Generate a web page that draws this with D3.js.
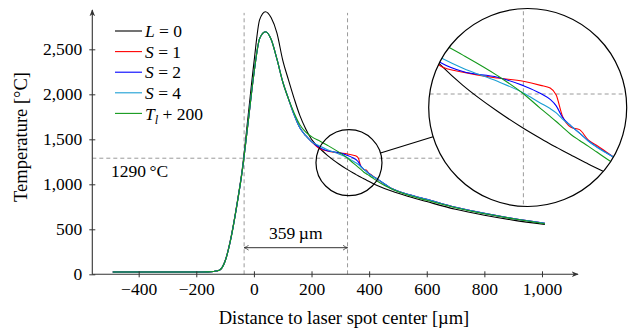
<!DOCTYPE html>
<html>
<head>
<meta charset="utf-8">
<script src="https://cdn.jsdelivr.net/npm/d3@7"></script>
<style>
  body { margin: 0; background: #fff; }
  svg text { font-family: "Liberation Serif", "Times New Roman", "DejaVu Serif", serif; fill: #000; }
</style>
</head>
<body>
<svg width="628" height="331"></svg>
<script>
// distance to laser spot center [µm], shared by all series
const xs = [-490, -300, -200, -160, -140, -120, -100, -80, -60, -40,
  -20, 0, 20, 40, 60, 80, 100, 120, 140, 160,
  180, 200, 230, 255, 295, 325, 345, 356, 363, 370,
  380, 390, 400, 410, 430, 480, 540, 600, 700, 800,
  900, 1010]

// temperatures [°C]
const tempL0 = [25, 25, 25, 27, 32, 46, 150, 405, 760, 1180,
  1760, 2350, 2830, 2918, 2850, 2680, 2380, 2160, 1950, 1760,
  1615, 1500, 1395, 1322, 1226, 1163, 1125, 1105, 1093, 1081,
  1064, 1047, 1031, 1015, 985, 922, 862, 808, 722, 656,
  602, 553]
const tempS1 = [25, 25, 25, 27, 32, 45, 145, 395, 750, 1160,
  1690, 2230, 2620, 2696, 2610, 2390, 2140, 1950, 1770, 1625,
  1540, 1475, 1392, 1371, 1349, 1337, 1322, 1312, 1286, 1210,
  1167, 1158, 1120, 1099, 1055, 950, 885, 833, 745, 677,
  620, 568]
const tempS2 = [25, 25, 25, 27, 32, 45, 145, 395, 750, 1160,
  1690, 2230, 2620, 2696, 2610, 2390, 2140, 1950, 1770, 1625,
  1540, 1475, 1405, 1373, 1352, 1321, 1292, 1270, 1246, 1205,
  1172, 1145, 1117, 1094, 1055, 950, 885, 833, 745, 677,
  620, 568]
const tempS4 = [25, 25, 25, 27, 32, 45, 145, 395, 750, 1160,
  1690, 2230, 2620, 2696, 2610, 2390, 2140, 1950, 1770, 1625,
  1540, 1475, 1423, 1385, 1337, 1294, 1256, 1236, 1220, 1198,
  1172, 1145, 1116, 1093, 1055, 950, 885, 833, 745, 677,
  620, 568]
const tempTl = [25, 25, 25, 27, 32, 45, 145, 395, 750, 1160,
  1690, 2230, 2620, 2696, 2610, 2390, 2140, 1950, 1790, 1660,
  1580, 1530, 1478, 1434, 1358, 1291, 1236, 1207, 1188, 1168,
  1140, 1118, 1097, 1075, 1032, 945, 875, 822, 740, 672,
  617, 562]

const xTicks = [-400, -200, 0, 200, 400, 600, 800, 1000]
const yTicks = [0, 500, 1000, 1500, 2000, 2500]
const meltTemp = 1290
const spotEdges = [-34, 325]

const series = [
  { label: [['L', true], [' = 0', false]], values: tempL0, color: '#000000' },
  { label: [['S', true], [' = 1', false]], values: tempS1, color: '#ff0000' },
  { label: [['S', true], [' = 2', false]], values: tempS2, color: '#0000ff' },
  { label: [['S', true], [' = 4', false]], values: tempS4, color: '#1b9fd4' },
  { label: [['T', true], ['l', true, 'sub'], [' + 200', false]], values: tempTl, color: '#13991b' },
]

;(function (d3) {
  'use strict'

  const svg = d3.select('svg')
  const fontSize = 17.5
  const fontFamily = '"Liberation Serif", "Times New Roman", "DejaVu Serif", serif'

  const x = d3.scaleLinear().domain([-561, 1125]).range([92.3, 578])
  const y = d3.scaleLinear().domain([0, 2937]).range([274.3, 10])

  // spy: small circle in the plot, magnified 3x in the big circle
  const mag = 3
  const spyC = [x(330), y(1240)]
  const spyR = 33
  const bigC = [527.7, 107.5]
  const bigR = 99
  const xz = x.copy().range(x.range().map(v => bigC[0] + mag * (v - spyC[0])))
  const yz = y.copy().range(y.range().map(v => bigC[1] + mag * (v - spyC[1])))

  const defs = svg.append('defs')
  defs.
    append('clipPath').
    attr('id', 'spy-clip').
    append('circle').
    attr('cx', bigC[0]).
    attr('cy', bigC[1]).
    attr('r', bigR)

  function drawContent (g, sx, sy, hEnd) {
    g.selectAll('line.guide-v').
      data(spotEdges).
      enter().
      append('line').
      attr('class', 'guide-v').
      attr('x1', d => sx(d)).
      attr('x2', d => sx(d)).
      attr('y1', sy(0)).
      attr('y2', sy(2905)).
      attr('stroke', '#9a9a9a').
      attr('stroke-width', 1).
      attr('stroke-dasharray', '4,3')

    g.append('line').
      attr('x1', sx(-561)).
      attr('x2', hEnd).
      attr('y1', sy(meltTemp)).
      attr('y2', sy(meltTemp)).
      attr('stroke', '#9a9a9a').
      attr('stroke-width', 1).
      attr('stroke-dasharray', '4,3')

    const line = d3.line().
      x((d, i) => sx(xs[i])).
      y(d => sy(d)).
      curve(d3.curveMonotoneX)

    g.selectAll('path.curve').
      data(series).
      enter().
      append('path').
      attr('class', 'curve').
      attr('d', d => line(d.values)).
      attr('fill', 'none').
      attr('stroke', d => d.color).
      attr('stroke-width', 1.1)
  }

  // main plot
  drawContent(svg.append('g'), x, y, 470)

  // axes
  const axisColor = '#333'
  const xAxis = svg.append('g').
    attr('transform', `translate(0,${y(0)})`).
    call(d3.axisBottom(x).tickValues(xTicks).tickSize(0).tickFormat(d3.format(',')))
  xAxis.select('.domain').remove()
  xAxis.attr('font-family', null).attr('font-size', null)
  xAxis.selectAll('.tick line').attr('y1', -3).attr('y2', 3).attr('stroke', axisColor)
  xAxis.selectAll('.tick text').
    attr('y', 8).
    attr('dy', '0.71em').
    style('font-size', fontSize + 'px').
    style('font-family', fontFamily).
    attr('fill', '#000')

  const yAxis = svg.append('g').
    attr('transform', `translate(${x(-561)},0)`).
    call(d3.axisLeft(y).tickValues(yTicks).tickSize(0).tickFormat(d3.format(',')))
  yAxis.select('.domain').remove()
  yAxis.attr('font-family', null).attr('font-size', null)
  yAxis.selectAll('.tick line').attr('x1', -3).attr('x2', 3).attr('stroke', axisColor)
  yAxis.selectAll('.tick text').
    attr('x', -10).
    style('font-size', fontSize + 'px').
    style('font-family', fontFamily).
    attr('fill', '#000')

  defs.append('marker').
    attr('id', 'axis-arrow').
    attr('viewBox', '0 0 10 10').
    attr('refX', 9).
    attr('refY', 5).
    attr('markerWidth', 7).
    attr('markerHeight', 7).
    attr('markerUnits', 'userSpaceOnUse').
    attr('orient', 'auto').
    append('path').
    attr('d', 'M0,1 L10,5 L0,9 L3,5 Z').
    attr('fill', axisColor)

  svg.append('line').
    attr('x1', x(-561)).attr('x2', 578).
    attr('y1', y(0)).attr('y2', y(0)).
    attr('stroke', axisColor).attr('stroke-width', 1.1).
    attr('marker-end', 'url(#axis-arrow)')
  svg.append('line').
    attr('x1', x(-561)).attr('x2', x(-561)).
    attr('y1', y(0)).attr('y2', 10).
    attr('stroke', axisColor).attr('stroke-width', 1.1).
    attr('marker-end', 'url(#axis-arrow)')

  // axis titles
  svg.append('text').
    attr('x', 344).
    attr('y', 324).
    attr('text-anchor', 'middle').
    style('font-size', '18.5px').
    text('Distance to laser spot center [µm]')
  svg.append('text').
    attr('transform', 'translate(27,137) rotate(-90)').
    attr('text-anchor', 'middle').
    style('font-size', '18.5px').
    text('Temperature [°C]')

  // melt temperature label
  svg.append('text').
    attr('x', 111).
    attr('y', 177).
    style('font-size', fontSize + 'px').
    text('1290\u2009°C')

  // spot width annotation
  defs.append('marker').
    attr('id', 'dim-arrow').
    attr('viewBox', '0 0 10 10').
    attr('refX', 9.5).
    attr('refY', 5).
    attr('markerWidth', 6).
    attr('markerHeight', 6).
    attr('markerUnits', 'userSpaceOnUse').
    attr('orient', 'auto-start-reverse').
    append('path').
    attr('d', 'M2,1 Q6,4 9.5,5 Q6,6 2,9').
    attr('fill', 'none').
    attr('stroke', axisColor).
    attr('stroke-width', 1.3)
  svg.append('line').
    attr('x1', x(spotEdges[0])).attr('x2', x(spotEdges[1])).
    attr('y1', 247.7).attr('y2', 247.7).
    attr('stroke', axisColor).attr('stroke-width', 1).
    attr('marker-start', 'url(#dim-arrow)').
    attr('marker-end', 'url(#dim-arrow)')
  svg.append('text').
    attr('x', (x(spotEdges[0]) + x(spotEdges[1])) / 2).
    attr('y', 239).
    attr('text-anchor', 'middle').
    style('font-size', fontSize + 'px').
    text(`${spotEdges[1] - spotEdges[0]}\u2009µm`)

  // spy circles and connection
  const ang = Math.atan2(bigC[1] - spyC[1], bigC[0] - spyC[0])
  svg.append('line').
    attr('x1', spyC[0] + spyR * Math.cos(ang)).
    attr('y1', spyC[1] + spyR * Math.sin(ang)).
    attr('x2', bigC[0] - bigR * Math.cos(ang)).
    attr('y2', bigC[1] - bigR * Math.sin(ang)).
    attr('stroke', '#000').attr('stroke-width', 1.2)
  svg.append('circle').
    attr('cx', spyC[0]).attr('cy', spyC[1]).attr('r', spyR).
    attr('fill', 'none').attr('stroke', '#000').attr('stroke-width', 1.2)
  svg.append('circle').
    attr('cx', bigC[0]).attr('cy', bigC[1]).attr('r', bigR).
    attr('fill', '#fff')
  drawContent(svg.append('g').attr('clip-path', 'url(#spy-clip)'), xz, yz, 1000)
  svg.append('circle').
    attr('cx', bigC[0]).attr('cy', bigC[1]).attr('r', bigR).
    attr('fill', 'none').attr('stroke', '#000').attr('stroke-width', 1.2)

  // legend
  const legend = svg.append('g').attr('transform', 'translate(115,31)')
  const rows = legend.selectAll('g').
    data(series).
    enter().
    append('g').
    attr('transform', (d, i) => `translate(0,${i * 20.6})`)
  rows.append('line').
    attr('x1', 0).attr('x2', 27).
    attr('stroke', d => d.color).
    attr('stroke-width', 1.1)
  const labels = rows.append('text').
    attr('x', 30).
    attr('dy', '0.35em').
    style('font-size', fontSize + 'px')
  labels.each(function (d) {
    const t = d3.select(this)
    d.label.forEach(([s, italic, sub]) => {
      const span = t.append('tspan').text(s)
      if (italic) span.style('font-style', 'italic')
      if (sub) span.attr('baseline-shift', '-30%').style('font-size', '12.5px')
    })
  })
}(d3))
</script>
</body>
</html>
